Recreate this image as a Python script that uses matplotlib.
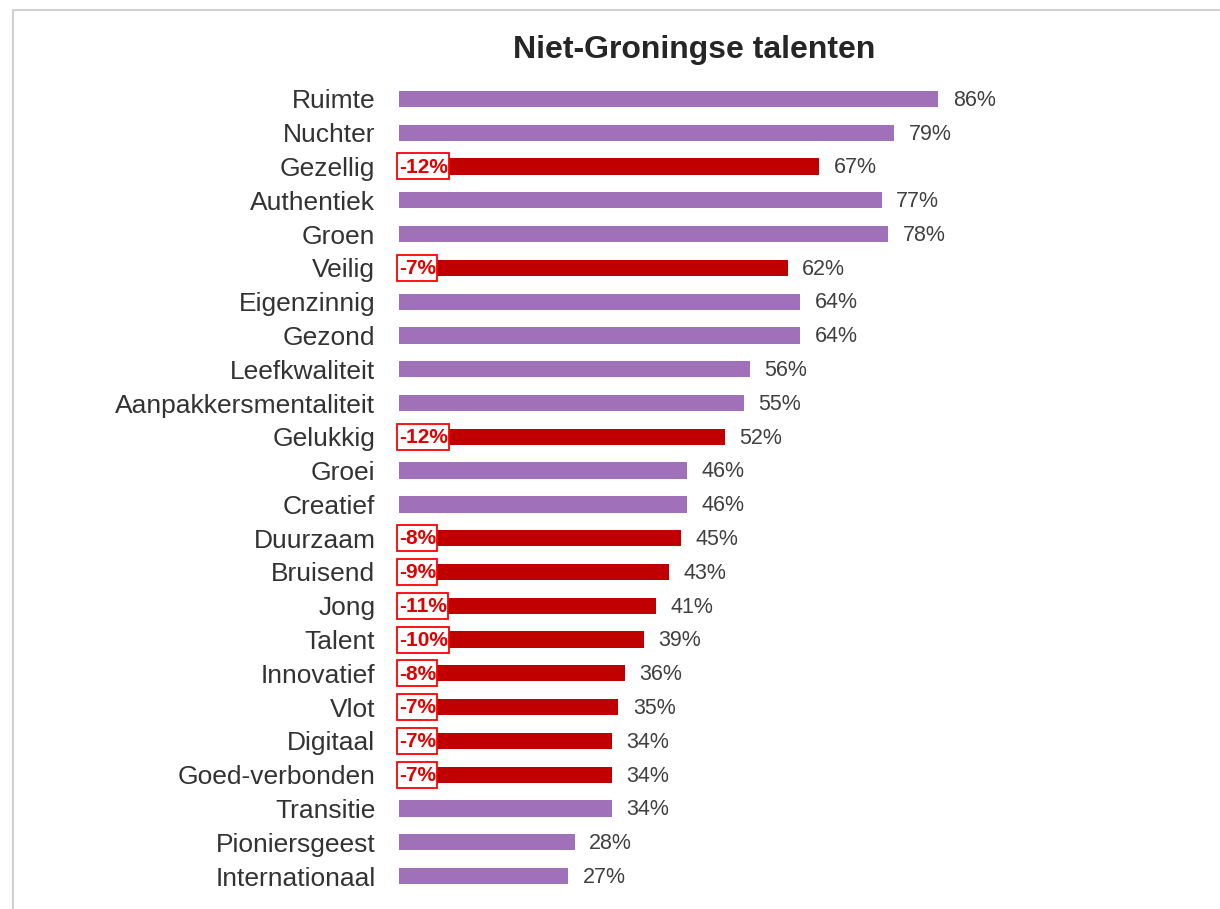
import matplotlib.pyplot as plt
from matplotlib.patches import Rectangle

# data
categories = ['Ruimte', 'Nuchter', 'Gezellig', 'Authentiek', 'Groen', 'Veilig',
              'Eigenzinnig', 'Gezond', 'Leefkwaliteit', 'Aanpakkersmentaliteit',
              'Gelukkig', 'Groei', 'Creatief', 'Duurzaam', 'Bruisend', 'Jong',
              'Talent', 'Innovatief', 'Vlot', 'Digitaal', 'Goed-verbonden',
              'Transitie', 'Pioniersgeest', 'Internationaal']
values = [86, 79, 67, 77, 78, 62, 64, 64, 56, 55, 52, 46, 46, 45, 43, 41,
          39, 36, 35, 34, 34, 34, 28, 27]
# difference shown in red box (None = no box)
diffs = [None, None, -12, None, None, -7, None, None, None, None, -12, None,
         None, -8, -9, -11, -10, -8, -7, -7, -7, None, None, None]

plt.rcParams['font.family'] = ['Liberation Sans', 'DejaVu Sans']

purple = '#A070B8'
red = '#C00000'

fig = plt.figure(figsize=(12.2, 9.09), dpi=100)
W, H = 1220, 909
ax = fig.add_axes([399 / W, 1 - 893 / H, 627 / W, (893 - 82) / H])

ypos = list(range(len(categories)))
colors = [red if d is not None else purple for d in diffs]
ax.barh(ypos, values, height=0.48, color=colors)

diff_texts = []
for y, v, d in zip(ypos, values, diffs):
    ax.text(v + 2.3, y + 0.04, f'{v}%', va='center', ha='left', fontsize=15.5,
            color='#404040')
    if d is not None:
        t = ax.text(0.0, y + 0.02, f'{d}%', va='center', ha='left',
                    fontsize=15, fontweight='bold', color='#E00000',
                    zorder=4)
        diff_texts.append((t, y))

ax.set_xlim(0, 100)
ax.set_ylim(len(categories) - 0.5, -0.5)
ax.set_yticks(ypos)
ax.set_yticklabels(categories, fontsize=19, color='#333333')
ax.tick_params(axis='y', length=0, pad=17)
ax.set_xticks([])
for s in ax.spines.values():
    s.set_visible(False)

# white boxes with red edge behind the difference labels
fig.canvas.draw()
renderer = fig.canvas.get_renderer()
inv = ax.transData.inverted()
for t, y in diff_texts:
    bb = t.get_window_extent(renderer)
    x0 = inv.transform((bb.x0 - 2, 0))[0]
    x1 = inv.transform((bb.x1 + 1, 0))[0]
    box_h = 26 / 33.8
    ax.add_patch(Rectangle((x0, y - box_h / 2), x1 - x0, box_h,
                           fc='white', ec='#FF0000', lw=1.3, zorder=3,
                           clip_on=False))

fig.text(694 / W, 1 - 50 / H, 'Niet-Groningse talenten', ha='center',
         va='center', fontsize=23, fontweight='bold', color='#262626')

# light frame around chart area
fig.patches.append(Rectangle((13 / W, -0.1), 1.2, 1 - 10 / H + 0.1,
                             transform=fig.transFigure, fill=False,
                             ec='#D0D0D0', lw=1.5))

fig.savefig('out.png', dpi=100)
